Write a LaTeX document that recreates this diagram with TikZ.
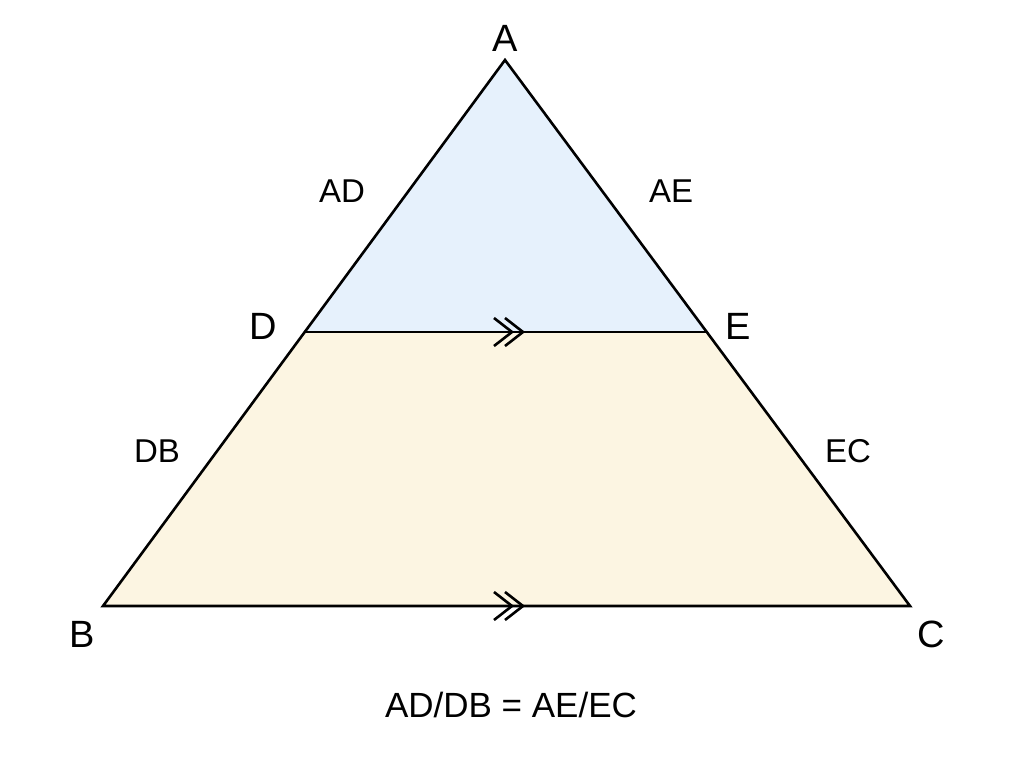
\documentclass[tikz,border=0pt]{standalone}
\usepackage{fontspec}
\setmainfont{Liberation Sans}
\definecolor{topfill}{HTML}{E6F1FC}
\definecolor{botfill}{HTML}{FCF5E2}
\begin{document}
\begin{tikzpicture}[x=1pt,y=-1pt,
  edge/.style={line width=2.6pt,black,line join=miter},
  chev/.style={line width=2.6pt,black},
  vlabel/.style={font=\fontsize{38}{40}\selectfont,inner sep=0pt},
  slabel/.style={font=\fontsize{33}{36}\selectfont,inner sep=0pt},
  flabel/.style={font=\fontsize{35}{38}\selectfont,inner sep=0pt}]
\useasboundingbox[fill=white] (0,0) rectangle (1024,768);
\coordinate (A) at (505,60);
\coordinate (B) at (103,606);
\coordinate (C) at (910,606);
\coordinate (D) at (304,332);
\coordinate (E) at (707,332);
\fill[topfill] (A) -- (D) -- (E) -- cycle;
\fill[botfill] (D) -- (B) -- (C) -- (E) -- cycle;
\draw[edge] (A) -- (B) -- (C) -- cycle;
\draw[edge] (D) -- (E);
% parallel marks
\foreach \y in {332,606}{
  \draw[chev] (494,\y-14) -- (512,\y) -- (494,\y+14);
  \draw[chev] (505,\y-14) -- (523,\y) -- (505,\y+14);
}
\node[vlabel] (lA) at (505,38) {A};
\node[vlabel] (lD) at (263,326) {D};
\node[vlabel] (lE) at (738,326) {E};
\node[vlabel] (lB) at (82,634) {B};
\node[vlabel] (lC) at (931,634) {C};
\node[slabel] (lAD) at (342,191) {AD};
\node[slabel] (lAE) at (671,191) {AE};
\node[slabel] (lDB) at (157,451) {DB};
\node[slabel] (lEC) at (848,451) {EC};
\node[flabel] (f) at (511,705) {AD/DB = AE/EC};
\end{tikzpicture}
\end{document}
